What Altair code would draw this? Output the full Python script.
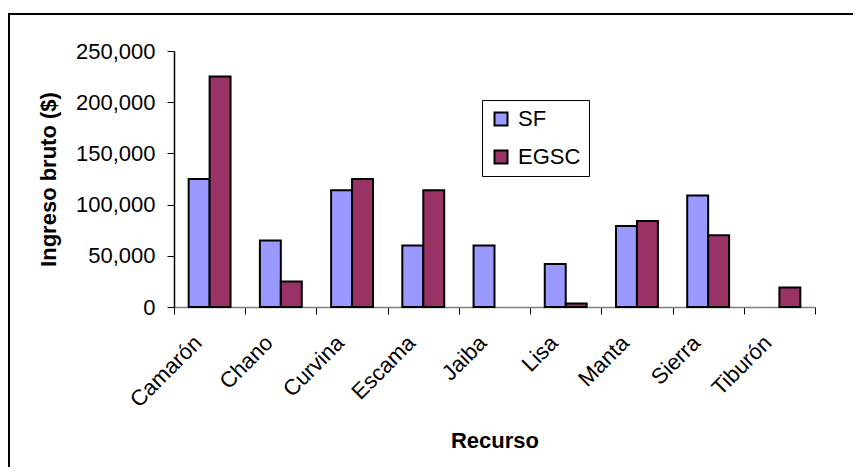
import altair as alt
import pandas as pd

categories = ["Camarón", "Chano", "Curvina", "Escama", "Jaiba", "Lisa", "Manta", "Sierra", "Tiburón"]
series = ["SF", "EGSC"]
sf_values = [125000, 65000, 114000, 60000, 60000, 42000, 79000, 109000, 0]
egsc_values = [225000, 25000, 125000, 114000, 0, 3500, 84000, 70000, 19000]
y_ticks = [0, 50000, 100000, 150000, 200000, 250000]
colors = ["#9999FF", "#993366"]

rows = []
for c, a, b in zip(categories, sf_values, egsc_values):
    rows.append({"Recurso": c, "Serie": "SF", "Valor": a})
    rows.append({"Recurso": c, "Serie": "EGSC", "Valor": b})
df = pd.DataFrame(rows)
df = df[df["Valor"] > 0]

W, H = 641, 256
FONT = "Liberation Sans"
FS = 22

bars = alt.Chart(df).mark_bar(stroke="black", strokeWidth=2, strokeOpacity=1).encode(
    x=alt.X(
        "Recurso:N",
        sort=categories,
        scale=alt.Scale(domain=categories, paddingInner=0, paddingOuter=0),
        axis=alt.Axis(
            title="Recurso",
            labelAngle=-45,
            labelAlign="right",
            labelBaseline="middle",
            labelPadding=25,
            labelOffset=-12,
            tickBand="extent",
            tickSize=7,
            tickColor="black",
            domainColor="#808080",
            domainWidth=1.5,
            labelFont=FONT,
            labelFontSize=FS,
            labelColor="black",
            titleFont=FONT,
            titleFontSize=FS,
            titleFontWeight="bold",
            titleColor="black",
            titleX=W / 2,
            titleY=133,
            titleBaseline="middle",
            titleAlign="center",
        ),
    ),
    xOffset=alt.XOffset(
        "Serie:N",
        sort=series,
        scale=alt.Scale(domain=series, paddingInner=0, paddingOuter=0.7),
    ),
    y=alt.Y(
        "Valor:Q",
        scale=alt.Scale(domain=[0, 250000], nice=False),
        axis=alt.Axis(
            title="Ingreso bruto ($)",
            values=y_ticks,
            format=",.0f",
            grid=False,
            tickSize=7,
            tickColor="black",
            domainColor="black",
            domainWidth=1.5,
            labelPadding=12,
            labelFont=FONT,
            labelFontSize=FS,
            labelColor="black",
            titleFont=FONT,
            titleFontSize=FS,
            titleFontWeight="bold",
            titleColor="black",
            titleX=-126,
            titleY=H / 2,
            titleBaseline="middle",
            titleAlign="center",
        ),
    ),
    color=alt.Color(
        "Serie:N",
        sort=series,
        scale=alt.Scale(domain=series, range=colors),
        legend=alt.Legend(
            title=None,
            orient="none",
            legendX=308,
            legendY=49,
            symbolType="square",
            symbolSize=169,
            symbolStrokeColor="black",
            symbolStrokeWidth=2,
            labelFont=FONT,
            labelFontSize=FS,
            labelColor="black",
            labelOffset=6,
            padding=8,
            rowPadding=16,
            strokeColor="black",
            fillColor="white",
        ),
    ),
)

frame_src = pd.DataFrame({"k": [0]})
frame_top = alt.Chart(frame_src).mark_rule(color="black", strokeWidth=2).encode(
    x=alt.value(-166), x2=alt.value(W + 38), y=alt.value(-37)
)
frame_left = alt.Chart(frame_src).mark_rule(color="black", strokeWidth=2).encode(
    x=alt.value(-165), y=alt.value(-38), y2=alt.value(H + 160)
)

chart = alt.layer(frame_top, frame_left, bars).properties(
    width=W,
    height=H,
    autosize="none",
    padding={"left": 166, "top": 43, "right": 38, "bottom": 160},
    background="white",
).configure_view(stroke=None)

chart.save("out.html", embed_options={"renderer": "svg", "actions": False})
